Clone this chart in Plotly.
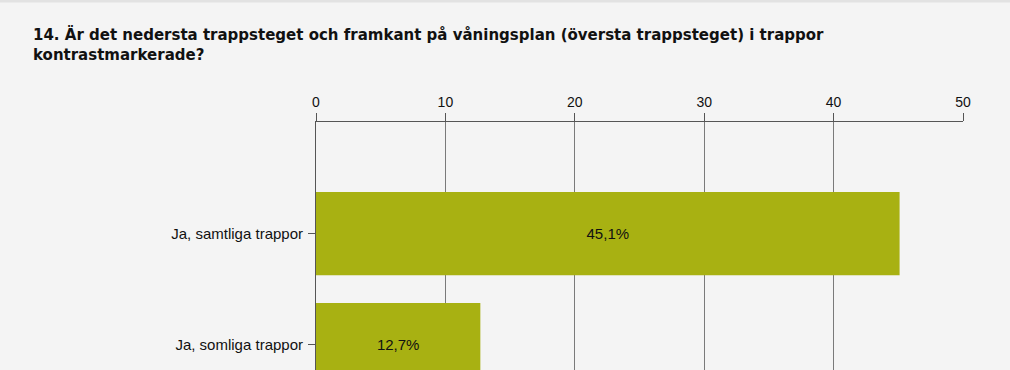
import plotly.graph_objects as go

categories = ["Ja, samtliga trappor", "Ja, somliga trappor"]
values = [45.1, 12.7]
value_labels = ["45,1%", "12,7%"]
tick_vals = [0, 10, 20, 30, 40, 50]
title_text = ("14. Är det nedersta trappsteget och framkant på våningsplan (översta trappsteget) i trappor"
              "<br>kontrastmarkerade?")

fig = go.Figure()
fig.add_trace(go.Bar(
    x=values, y=categories, orientation="h",
    marker=dict(color="#a8b112", line=dict(width=0)),
    text=value_labels, textposition="inside", insidetextanchor="middle",
    textfont=dict(family="Arial, Liberation Sans", size=15, color="#111111"),
    hoverinfo="skip",
))

fig.update_layout(
    width=1010, height=370,
    margin=dict(l=316, r=47, t=122, b=0),
    paper_bgcolor="#f4f4f4", plot_bgcolor="#f4f4f4",
    bargap=0.25,
    showlegend=False,
    title=dict(text=title_text, x=33/1010, xref="container", xanchor="left",
               y=1 - 40/370, yref="container", yanchor="top",
               font=dict(family="DejaVu Sans", size=15, color="#111111", weight="bold")),
)

fig.update_xaxes(
    side="top", range=[0, 50], tickvals=tick_vals, ticktext=[str(v) for v in tick_vals],
    showgrid=True, gridcolor="#7a7a7a", gridwidth=1,
    showline=True, linecolor="#555555", linewidth=1,
    ticks="outside", ticklen=8, tickcolor="#555555",
    tickfont=dict(family="Arial, Liberation Sans", size=14, color="#111111"),
    zeroline=False, fixedrange=True,
)
fig.update_yaxes(
    type="category", categoryorder="array", categoryarray=categories,
    range=[1.228, -1.006],
    showgrid=False, showline=True, linecolor="#555555", linewidth=1,
    ticks="outside", ticklen=7, tickcolor="#555555",
    tickfont=dict(family="Arial, Liberation Sans", size=15, color="#111111"),
    ticklabelstandoff=2, fixedrange=True,
)
# short extension of the top axis line to the left of zero
fig.add_shape(type="line", xref="x", yref="paper", x0=-1.4, x1=0, y0=1, y1=1,
              line=dict(color="#555555", width=1))
# thin light frame line along the top edge of the picture
fig.add_shape(type="line", xref="paper", yref="paper",
              x0=-316/647, x1=1 + 47/647, y0=1 + 121/248, y1=1 + 121/248,
              line=dict(color="#e2e2e2", width=3))

fig.write_html("out.html", config={"displayModeBar": False},
               post_script="document.body.style.margin='0';")
